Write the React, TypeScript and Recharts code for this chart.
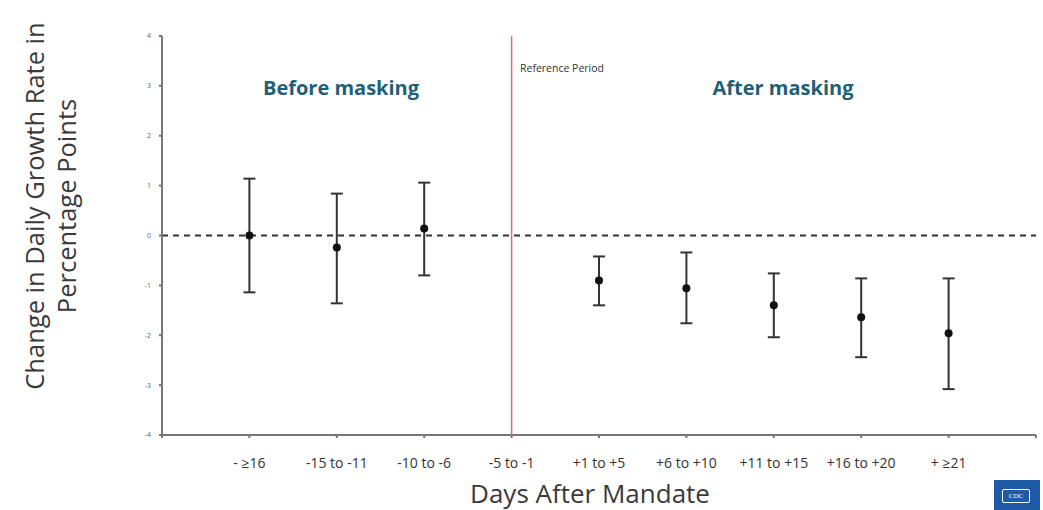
import {
  ComposedChart,
  Scatter,
  ErrorBar,
  XAxis,
  YAxis,
  ReferenceLine,
} from "recharts";

// categories along the x axis (position 1..9)
const categories = [
  "- ≥16",
  "-15 to -11",
  "-10 to -6",
  "-5 to -1",
  "+1 to +5",
  "+6 to +10",
  "+11 to +15",
  "+16 to +20",
  "+ ≥21",
];

// point estimate and 95% CI (reference period has none)
const estimate = [0.0, -0.24, 0.14, null, -0.9, -1.06, -1.4, -1.64, -1.96];
const lower = [-1.14, -1.36, -0.8, null, -1.4, -1.76, -2.04, -2.44, -3.08];
const upper = [1.14, 0.84, 1.06, null, -0.42, -0.34, -0.76, -0.86, -0.86];

const yTicks = [-4, -3, -2, -1, 0, 1, 2, 3, 4];
const xTicks = [0, 1, 2, 3, 4, 5, 6, 7, 8, 9, 10];
const referenceIndex = 4;

const points = categories
  .map((name, i) => ({
    name,
    x: i + 1,
    y: estimate[i],
    err: estimate[i] == null ? null : [estimate[i]! - lower[i]!, upper[i]! - estimate[i]!],
  }))
  .filter((d) => d.y != null);

const font = "'Open Sans', 'DejaVu Sans', sans-serif";

export default function App() {
  return (
    <div
      style={{
        position: "absolute",
        left: 0,
        top: 0,
        width: 1043,
        height: 510,
        background: "#fff",
        fontFamily: font,
        overflow: "hidden",
      }}
    >
      <ComposedChart
        width={1043}
        height={510}
        data={points}
        margin={{ top: 36, right: 7, bottom: 45, left: 132 }}
      >
        <XAxis
          type="number"
          dataKey="x"
          domain={[0, 10]}
          ticks={xTicks}
          interval={0}
          tickFormatter={(v: number) => categories[v - 1] ?? ""}
          tick={{ fontSize: 14, fill: "#333", fontFamily: font }}
          tickSize={3}
          tickMargin={20}
          stroke="#777"
          strokeWidth={2}
          height={30}
        />
        <YAxis
          type="number"
          dataKey="y"
          domain={[-4, 4]}
          ticks={yTicks}
          interval={0}
          tick={{ fontSize: 7, fill: "#666", fontFamily: font }}
          tickSize={3}
          tickMargin={8}
          stroke="#777"
          strokeWidth={2}
          width={30}
        />
        <ReferenceLine y={0} stroke="#333" strokeWidth={2} strokeDasharray="6 5" />
        <ReferenceLine x={referenceIndex} stroke="#e06a6a" strokeWidth={1.5} />
        <Scatter
          dataKey="y"
          fill="#111"
          isAnimationActive={false}
          shape={(p: any) => <circle cx={p.cx} cy={p.cy} r={4} fill="#111" />}
        >
          <ErrorBar dataKey="err" direction="y" width={6} stroke="#333" strokeWidth={2} />
        </Scatter>
      </ComposedChart>

      {/* axis titles and annotations */}
      <div
        style={{
          position: "absolute",
          left: 50,
          top: 206,
          transform: "translate(-50%, -50%) rotate(-90deg)",
          whiteSpace: "nowrap",
          textAlign: "center",
          fontSize: 25.5,
          lineHeight: "32px",
          color: "#3a3a3a",
        }}
      >
        Change in Daily Growth Rate in
        <br />
        Percentage Points
      </div>
      <div
        style={{
          position: "absolute",
          left: 590,
          top: 493,
          transform: "translate(-50%, -50%)",
          fontSize: 26,
          lineHeight: "28px",
          color: "#3a3a3a",
          whiteSpace: "nowrap",
        }}
      >
        Days After Mandate
      </div>
      <div
        style={{
          position: "absolute",
          left: 341,
          top: 87,
          transform: "translate(-50%, -50%)",
          fontSize: 20,
          fontWeight: 700,
          color: "#1f5f77",
          whiteSpace: "nowrap",
        }}
      >
        Before masking
      </div>
      <div
        style={{
          position: "absolute",
          left: 783,
          top: 87,
          transform: "translate(-50%, -50%)",
          fontSize: 20,
          fontWeight: 700,
          color: "#1f5f77",
          whiteSpace: "nowrap",
        }}
      >
        After masking
      </div>
      <div
        style={{
          position: "absolute",
          left: 520,
          top: 61,
          fontSize: 10.5,
          color: "#333",
          whiteSpace: "nowrap",
        }}
      >
        Reference Period
      </div>

      {/* CDC badge */}
      <div
        style={{
          position: "absolute",
          left: 994,
          top: 480,
          width: 46,
          height: 30,
          background: "#1f5aa6",
        }}
      >
        <div
          style={{
            position: "absolute",
            left: 8,
            top: 9,
            width: 26,
            height: 12,
            border: "1px solid #fff",
            borderRadius: 2,
            color: "#fff",
            fontSize: 7,
            fontFamily: "'Liberation Serif', serif",
            lineHeight: "12px",
            textAlign: "center",
          }}
        >
          CDC
        </div>
      </div>
    </div>
  );
}
